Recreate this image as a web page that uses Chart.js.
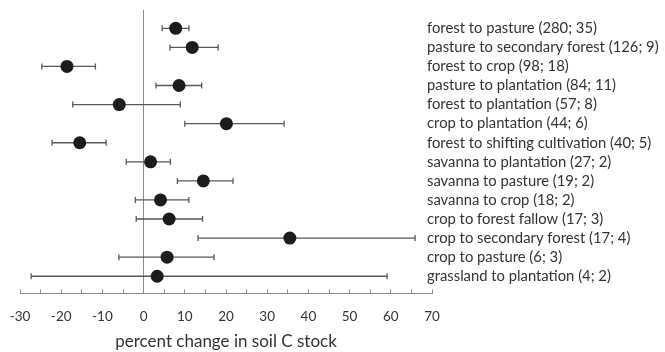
<!DOCTYPE html>
<html>
<head>
<meta charset="utf-8">
<script src="https://cdn.jsdelivr.net/npm/chart.js@4.4.0/dist/chart.umd.min.js"></script>
<style>
  html, body { margin: 0; padding: 0; background: #fff; }
  #wrap { width: 665px; height: 352px; }
</style>
</head>
<body>
<div id="wrap"><canvas id="forestPlot"></canvas></div>
<script>
// land-use change categories, top to bottom (n observations; n studies)
var categories = [
    "forest to pasture (280; 35)",
    "pasture to secondary forest (126; 9)",
    "forest to crop (98; 18)",
    "pasture to plantation (84; 11)",
    "forest to plantation (57; 8)",
    "crop to plantation (44; 6)",
    "forest to shifting cultivation (40; 5)",
    "savanna to plantation (27; 2)",
    "savanna to pasture (19; 2)",
    "savanna to crop (18; 2)",
    "crop to forest fallow (17; 3)",
    "crop to secondary forest (17; 4)",
    "crop to pasture (6; 3)",
    "grassland to plantation (4; 2)"
];
var means = [7.8, 11.8, -18.6, 8.6, -5.9, 20.1, -15.5, 1.7, 14.5, 4.1, 6.2, 35.5, 5.7, 3.3];
var lower = [4.5, 6.4, -24.7, 3.0, -17.2, 10.0, -22.2, -4.2, 8.2, -2.0, -1.8, 13.2, -6.0, -27.3];
var upper = [11.0, 18.1, -11.7, 14.1, 8.9, 34.1, -9.1, 6.5, 21.7, 11.0, 14.3, 65.9, 17.1, 59.1];
var xTickLabels = [-30, -20, -10, 0, 10, 20, 30, 40, 50, 60, 70];

var textColor = '#333';
var barColor = '#595959';
var axisColor = '#8c8c8c';
var fontFamily = 'Lato, "Open Sans", sans-serif';

// one little dataset per row for the whisker + caps
var errorSets = categories.map(function (name, i) {
    return {
        label: name,
        data: [{x: lower[i], y: i}, {x: upper[i], y: i}],
        showLine: true,
        borderColor: barColor,
        borderWidth: 1.3,
        pointStyle: 'line',
        pointRotation: 90,
        pointRadius: 3,
        pointBorderColor: barColor,
        pointBorderWidth: 1.3,
        pointHoverRadius: 0
    };
});

var meanSet = {
    label: 'mean',
    data: means.map(function (m, i) { return {x: m, y: i}; }),
    pointRadius: 6.5,
    pointBackgroundColor: '#1c1c1c',
    pointBorderColor: '#1c1c1c',
    pointBorderWidth: 0,
    pointHoverRadius: 6.5
};

var ctx = document.getElementById("forestPlot");
if (ctx != null) {
    window.myPlot = new Chart(ctx, {
        type: 'scatter',
        data: {
            datasets: [meanSet].concat(errorSets)
        },
        options: {
            responsive: true,
            maintainAspectRatio: false,
            animation: false,
            layout: {
                padding: {left: 20, right: 5, top: 10, bottom: 0}
            },
            plugins: {
                legend: {display: false},
                tooltip: {enabled: false}
            },
            scales: {
                x: {
                    type: 'linear',
                    min: -30,
                    max: 70,
                    afterFit: function (axis) {
                        // tick padding shouldn't push the plot in from the left
                        axis.paddingLeft = 0;
                        axis.paddingRight = 0;
                    },
                    ticks: {
                        stepSize: 5,
                        autoSkip: false,
                        maxRotation: 0,
                        padding: 19,
                        color: textColor,
                        font: {family: fontFamily, size: 13.5},
                        callback: function (v) {
                            return xTickLabels.indexOf(v) >= 0 ? String(v) : '';
                        }
                    },
                    grid: {
                        color: function (c) {
                            return c.tick && c.tick.value === 0 ? axisColor : 'rgba(0,0,0,0)';
                        },
                        tickColor: axisColor,
                        tickLength: -4,
                        lineWidth: 1
                    },
                    border: {color: axisColor, width: 1},
                    title: {
                        display: true,
                        text: 'percent change in soil C stock',
                        color: textColor,
                        font: {family: fontFamily, size: 17},
                        padding: {top: -12, bottom: 0}
                    }
                },
                y: {
                    type: 'linear',
                    position: 'right',
                    reverse: true,
                    min: -0.96,
                    max: 13.9,
                    afterBuildTicks: function (axis) {
                        axis.ticks = categories.map(function (c, i) { return {value: i}; });
                    },
                    afterFit: function (axis) {
                        axis.width = 228;
                        // labels start a little left of the axis edge, so don't clip them
                        axis._computeLabelArea = function () { return undefined; };
                    },
                    ticks: {
                        autoSkip: false,
                        padding: -5,
                        color: textColor,
                        font: {family: fontFamily, size: 14.8},
                        callback: function (v) { return categories[v]; }
                    },
                    grid: {display: false, drawTicks: false},
                    border: {display: false}
                }
            }
        }
    });
}
</script>
</body>
</html>
